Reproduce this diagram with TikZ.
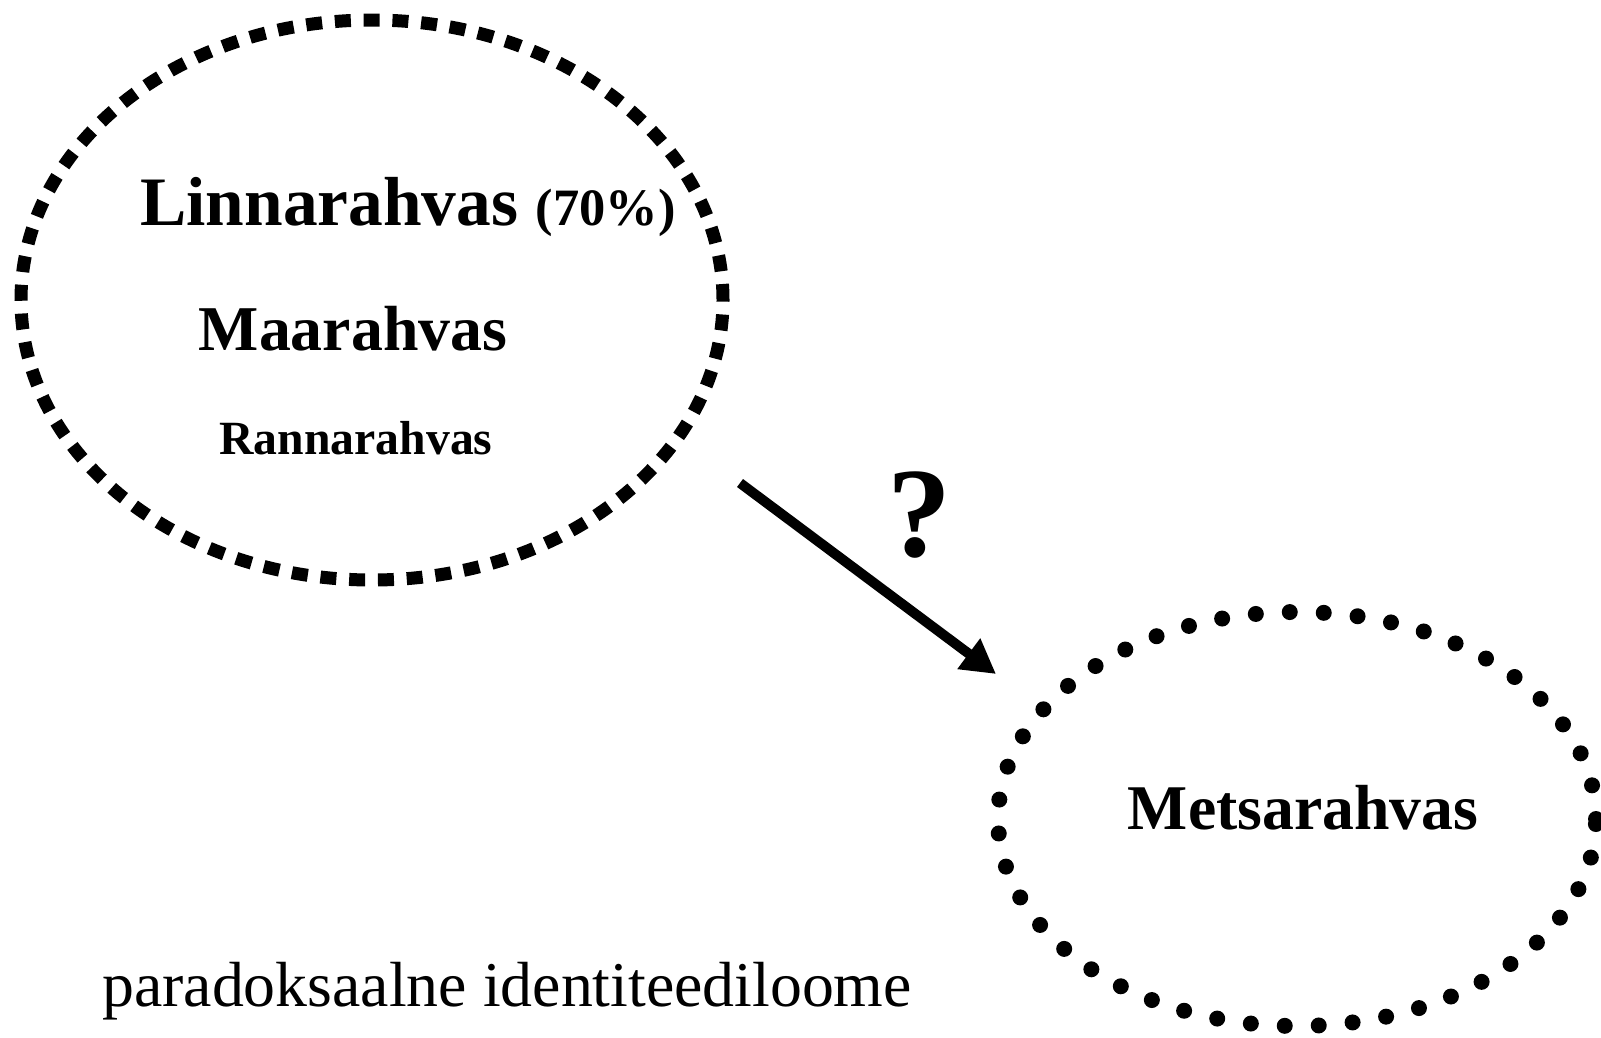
\documentclass[tikz,border=0pt]{standalone}
\usepackage{fontspec}
\setmainfont{Liberation Serif}
\usetikzlibrary{shapes.geometric,arrows.meta}

\tikzset{
  squarering/.style={ellipse, draw, line width=13pt, dash pattern=on 16pt off 12.8pt},
  dotring/.style={ellipse, draw, line width=16pt, line cap=round, dash pattern=on 0pt off 34pt},
  label/.style={anchor=base, inner sep=0pt, font=\bfseries},
}

\begin{document}
\begin{tikzpicture}[x=1pt, y=-1pt]
  \useasboundingbox (0,0) rectangle (1601,1037);

  \node[squarering, minimum width=702pt, minimum height=560pt] (rural) at (372, 300) {};
  \node[dotring, minimum width=598pt, minimum height=414pt] (forest) at (1297, 819) {};

  \node[label, font=\bfseries\fontsize{69.4}{80}\selectfont] (linn) at (408, 225)
    {Linnarahvas {\fontsize{52.5}{60}\selectfont(70\%)}};
  \node[label, font=\bfseries\fontsize{63.8}{74}\selectfont] (maa) at (353, 350) {Maarahvas};
  \node[label, font=\bfseries\fontsize{47.7}{56}\selectfont] (rand) at (356, 454) {Rannarahvas};
  \node[label, font=\bfseries\fontsize{63.7}{74}\selectfont] (mets) at (1303, 829) {Metsarahvas};
  \node[label, font=\fontsize{63.8}{74}\selectfont] (para) at (507, 1006) {paradoksaalne identiteediloome};
  \node[label, font=\bfseries\fontsize{128}{140}\selectfont] (q) at (919, 556) {?};

  \coordinate (from) at (740, 483);
  \coordinate (to) at (996, 674);
  \draw[line width=10pt, -{Triangle[length=34pt, width=36pt]}] (from) -- (to);
\end{tikzpicture}
\end{document}
